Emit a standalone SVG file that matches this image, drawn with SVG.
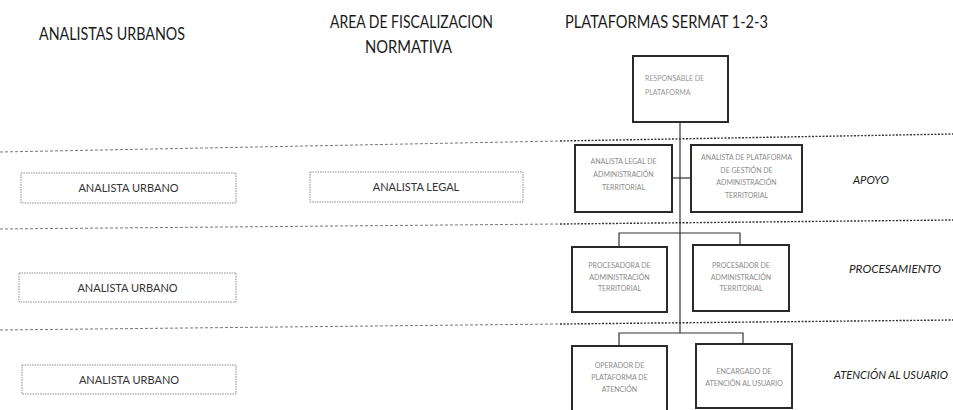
<svg xmlns="http://www.w3.org/2000/svg" width="953" height="410" viewBox="0 0 953 410">
<style>
  text { font-family: Lato, "Open Sans", "Liberation Sans", sans-serif; }
  .hdr { font-size: 16.5px; fill: #1a1a1a; }
  .lbox { fill: #fff; stroke: #8a8a8a; stroke-width: 1; stroke-dasharray: 1.5 1; }
  .ltxt { font-size: 11px; fill: #333; text-anchor: middle; }
  .rbox { fill: #fff; stroke: #2a2a2a; stroke-width: 2; }
  .rtxt { font-size: 7px; fill: #8c8c8c; text-anchor: middle; }
  .ttxt { font-size: 7px; fill: #999; }
  .lvl { font-size: 12px; font-style: italic; fill: #222; }
  .sepL { stroke: #777; stroke-width: 1; stroke-dasharray: 3 2; fill: none; }
  .sepR { stroke: #333; stroke-width: 1.4; stroke-dasharray: 2 1.5; fill: none; }
  .con { stroke: #333; stroke-width: 1.2; fill: none; }
</style>
<rect x="0" y="0" width="953" height="410" fill="#fff"/>

<g id="headers">
  <text class="hdr" x="39" y="40" textLength="146" lengthAdjust="spacingAndGlyphs">ANALISTAS URBANOS</text>
  <text class="hdr" x="330" y="28" textLength="163" lengthAdjust="spacingAndGlyphs">AREA DE FISCALIZACION</text>
  <text class="hdr" x="365" y="53" textLength="87" lengthAdjust="spacingAndGlyphs">NORMATIVA</text>
  <text class="hdr" x="565" y="28" textLength="203" lengthAdjust="spacingAndGlyphs">PLATAFORMAS SERMAT 1-2-3</text>
</g>

<g id="separators">
  <line class="sepL" x1="0" y1="152" x2="560" y2="141"/>
  <line class="sepR" x1="560" y1="141" x2="953" y2="134"/>
  <line class="sepL" x1="0" y1="229" x2="560" y2="224"/>
  <line class="sepR" x1="560" y1="224" x2="953" y2="220"/>
  <line class="sepL" x1="0" y1="330" x2="560" y2="324"/>
  <line class="sepR" x1="560" y1="324" x2="953" y2="320"/>
</g>

<g id="connectors">
  <line class="con" x1="680" y1="122" x2="680" y2="333"/>
  <line class="con" x1="672" y1="178" x2="691" y2="178"/>
  <polyline class="con" points="619,247 619,233 740,233 740,245"/>
  <polyline class="con" points="619,346 619,333 743,333 743,344"/>
</g>

<g id="node-analista-urbano-1">
  <rect class="lbox" x="21" y="173" width="215" height="30"/>
  <text class="ltxt" x="128.5" y="192">ANALISTA URBANO</text>
</g>
<g id="node-analista-legal">
  <rect class="lbox" x="310" y="172" width="213" height="30"/>
  <text class="ltxt" x="416" y="191">ANALISTA LEGAL</text>
</g>
<g id="node-analista-urbano-2">
  <rect class="lbox" x="19" y="273" width="217" height="29"/>
  <text class="ltxt" x="127.5" y="291.5">ANALISTA URBANO</text>
</g>
<g id="node-analista-urbano-3">
  <rect class="lbox" x="22" y="365" width="214" height="29"/>
  <text class="ltxt" x="129" y="383.5">ANALISTA URBANO</text>
</g>

<g id="node-responsable">
  <rect class="rbox" x="633" y="56" width="95" height="66"/>
  <text class="ttxt" x="645" y="81">RESPONSABLE DE</text>
  <text class="ttxt" x="645" y="95">PLATAFORMA</text>
</g>
<g id="node-analista-legal-at">
  <rect class="rbox" x="575" y="145" width="97" height="67"/>
  <text class="rtxt" x="623.5" y="164">ANALISTA LEGAL DE</text>
  <text class="rtxt" x="623.5" y="177">ADMINISTRACIÓN</text>
  <text class="rtxt" x="623.5" y="190">TERRITORIAL</text>
</g>
<g id="node-analista-plataforma">
  <rect class="rbox" x="691" y="145" width="111" height="67"/>
  <text class="rtxt" x="746.5" y="160">ANALISTA DE PLATAFORMA</text>
  <text class="rtxt" x="746.5" y="172.5">DE GESTIÓN DE</text>
  <text class="rtxt" x="746.5" y="185">ADMINISTRACIÓN</text>
  <text class="rtxt" x="746.5" y="197.5">TERRITORIAL</text>
</g>
<g id="node-procesadora">
  <rect class="rbox" x="572" y="247" width="95" height="65"/>
  <text class="rtxt" x="619.5" y="268">PROCESADORA DE</text>
  <text class="rtxt" x="619.5" y="279.5">ADMINISTRACIÓN</text>
  <text class="rtxt" x="619.5" y="291">TERRITORIAL</text>
</g>
<g id="node-procesador">
  <rect class="rbox" x="693" y="245" width="96" height="66"/>
  <text class="rtxt" x="741" y="268">PROCESADOR DE</text>
  <text class="rtxt" x="741" y="279.5">ADMINISTRACIÓN</text>
  <text class="rtxt" x="741" y="291">TERRITORIAL</text>
</g>
<g id="node-operador">
  <rect class="rbox" x="572" y="346" width="95" height="70"/>
  <text class="rtxt" x="619.5" y="368">OPERADOR DE</text>
  <text class="rtxt" x="619.5" y="380">PLATAFORMA DE</text>
  <text class="rtxt" x="619.5" y="392" fill="#8a8aa8">ATENCIÓN</text>
</g>
<g id="node-encargado">
  <rect class="rbox" x="696" y="344" width="96" height="64"/>
  <text class="rtxt" x="744" y="374">ENCARGADO DE</text>
  <text class="rtxt" x="744" y="386">ATENCIÓN AL USUARIO</text>
</g>

<g id="level-labels">
  <text class="lvl" x="853" y="184" textLength="36" lengthAdjust="spacingAndGlyphs">APOYO</text>
  <text class="lvl" x="849" y="273" textLength="92" lengthAdjust="spacingAndGlyphs">PROCESAMIENTO</text>
  <text class="lvl" x="834" y="379" style="font-size:10.8px" textLength="114" lengthAdjust="spacingAndGlyphs">ATENCIÓN AL USUARIO</text>
</g>
</svg>
